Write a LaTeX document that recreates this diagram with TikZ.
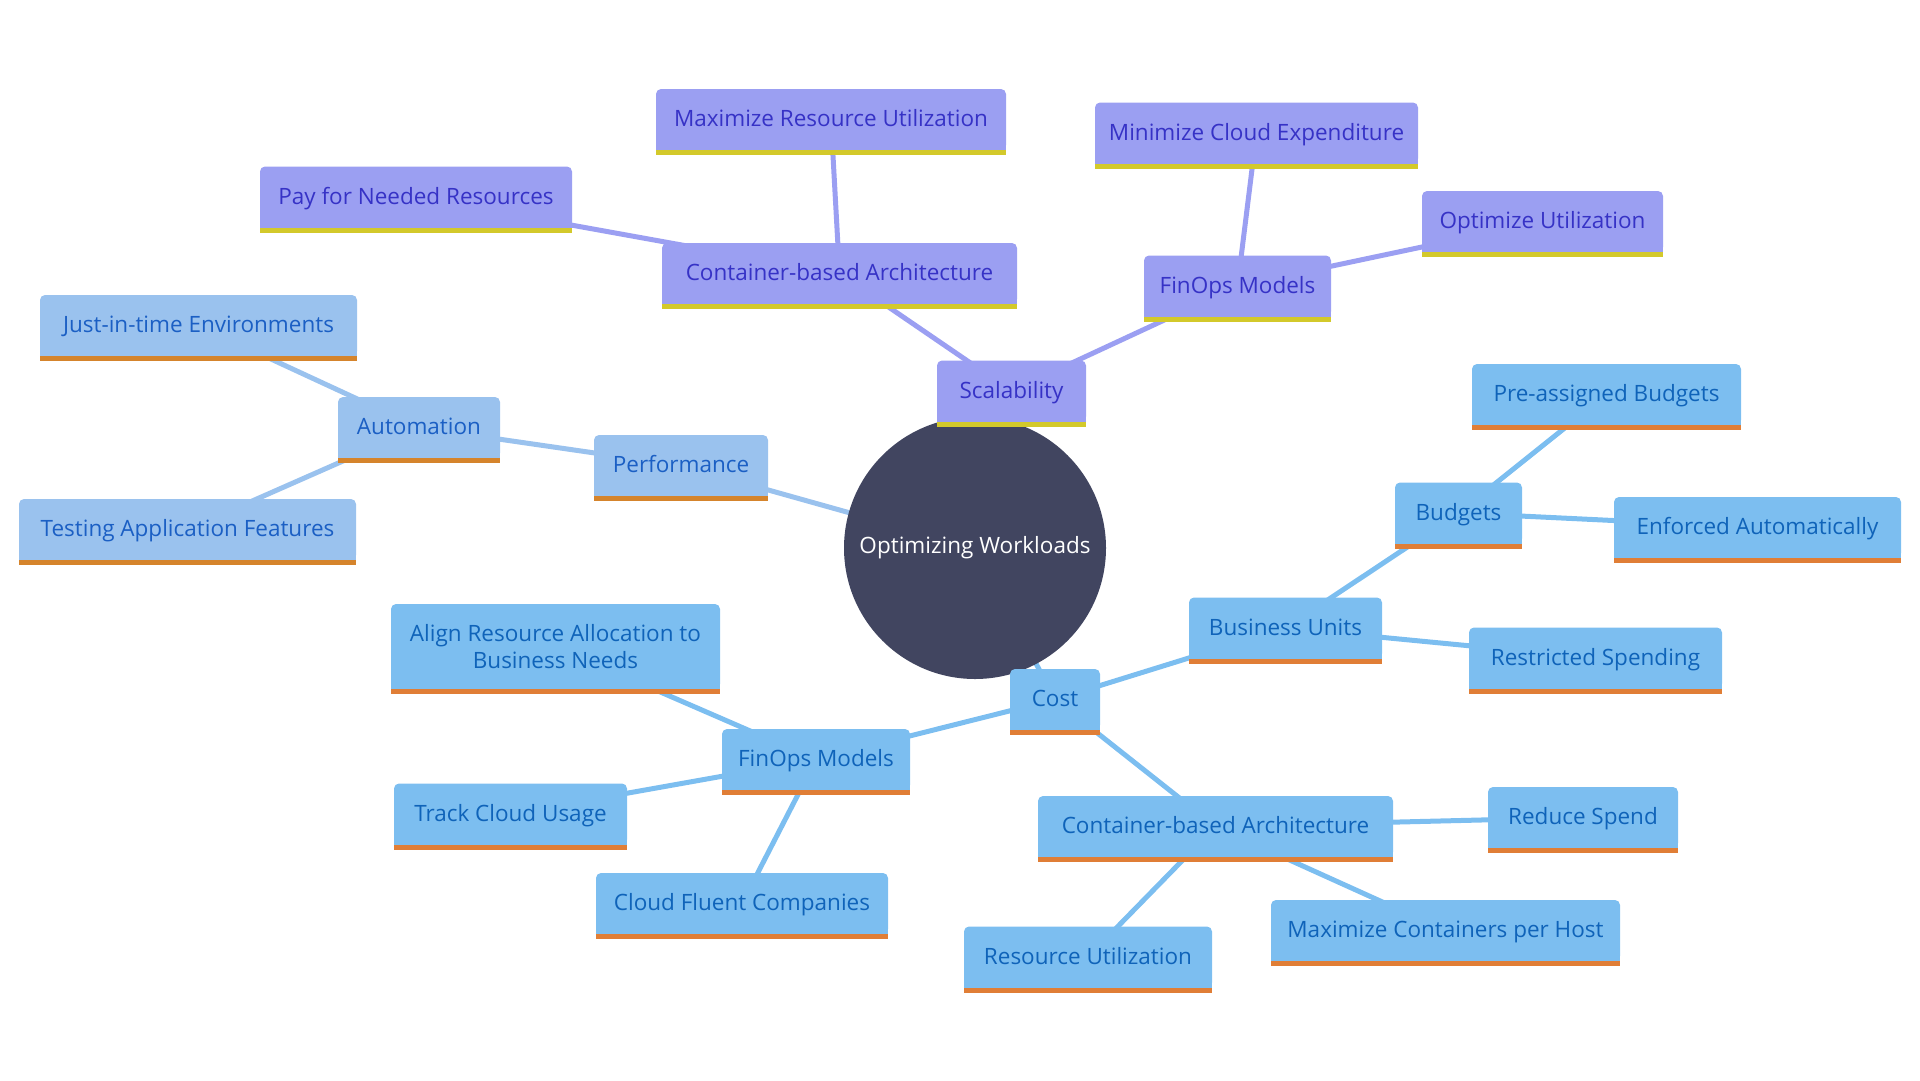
\documentclass[tikz,border=0pt]{standalone}
\usepackage{fontspec}
\setmainfont{Open Sans}
\usetikzlibrary{backgrounds}
\definecolor{pfill}{HTML}{9B9FF2}
\definecolor{ptext}{HTML}{3632C6}
\definecolor{pband}{HTML}{D3C92B}
\definecolor{bfill}{HTML}{9AC2EE}
\definecolor{btext}{HTML}{1B5FC4}
\definecolor{bband}{HTML}{D5842C}
\definecolor{cfill}{HTML}{7CBEF0}
\definecolor{ctext}{HTML}{0F63B9}
\definecolor{cband}{HTML}{E07E36}
\definecolor{hub}{HTML}{414560}
\tikzset{
  boxbase/.style={rectangle, rounded corners=5pt, minimum height=61pt, inner sep=0pt,
    font=\fontsize{22.5}{27}\selectfont, align=center},
  box/.style={boxbase, text height=17pt, text depth=3pt},
  pbox/.style={box, fill=pfill, text=ptext},
  bbox/.style={box, fill=bfill, text=btext},
  cbox/.style={box, fill=cfill, text=ctext},
  cboxtwo/.style={boxbase, fill=cfill, text=ctext},
  pedge/.style={draw=pfill, line width=5pt},
  bedge/.style={draw=bfill, line width=5pt},
  cedge/.style={draw=cfill, line width=5pt},
}
\begin{document}
\begin{tikzpicture}[x=1pt,y=-1pt]
\useasboundingbox (0,0) rectangle (1920,1080);
% hub
\node[circle, fill=hub, minimum size=262pt, inner sep=0pt, text=white,
  font=\fontsize{22.5}{27}\selectfont] (hub) at (975,548) {Optimizing Workloads};
% scalability group
\node[pbox, minimum width=350pt] (mru) at (831,119.5) {Maximize Resource Utilization};
\node[pbox, minimum width=355pt] (cta) at (839.5,273.5) {Container-based Architecture};
\node[pbox, minimum width=312pt] (pay) at (416,197) {Pay for Needed Resources};
\node[pbox, minimum width=323pt] (mce) at (1256.5,133) {Minimize Cloud Expenditure};
\node[pbox, minimum width=241pt] (opu) at (1542.5,221.5) {Optimize Utilization};
\node[pbox, minimum width=187pt] (fta) at (1237.5,286) {FinOps Models};
\node[pbox, minimum width=149pt] (sca) at (1011.5,391) {Scalability};
% performance group
\node[bbox, minimum width=174pt] (perf) at (681,465.5) {Performance};
\node[bbox, minimum width=162pt] (auto) at (419,427.5) {Automation};
\node[bbox, minimum width=317pt] (jit) at (198.5,325.5) {Just-in-time Environments};
\node[bbox, minimum width=337pt] (test) at (187.5,529.5) {Testing Application Features};
% cost group
\node[cbox, minimum width=90pt] (cost) at (1055,699.5) {Cost};
\node[cbox, minimum width=193pt] (bu) at (1285.5,628) {Business Units};
\node[cbox, minimum width=127pt] (bud) at (1458.5,513) {Budgets};
\node[cbox, minimum width=269pt] (pre) at (1606.5,394.5) {Pre-assigned Budgets};
\node[cbox, minimum width=287pt] (enf) at (1757.5,527.5) {Enforced Automatically};
\node[cbox, minimum width=253pt] (res) at (1595.5,658) {Restricted Spending};
\node[cboxtwo, minimum width=329pt, minimum height=85pt] (align) at (555.5,646.5) {Align Resource Allocation to\\Business Needs};
\node[cbox, minimum width=188pt] (fbm) at (816,759.5) {FinOps Models};
\node[cbox, minimum width=233pt] (track) at (510.5,814) {Track Cloud Usage};
\node[cbox, minimum width=292pt] (cfc) at (742,903.5) {Cloud Fluent Companies};
\node[cbox, minimum width=355pt] (cbb) at (1215.5,826.5) {Container-based Architecture};
\node[cbox, minimum width=190pt] (red) at (1583,817.5) {Reduce Spend};
\node[cbox, minimum width=349pt] (mcph) at (1445.5,930.5) {Maximize Containers per Host};
\node[cbox, minimum width=248pt] (ru) at (1088,957) {Resource Utilization};
% square bottom corners and bands
\foreach \n in {mru,cta,pay,mce,opu,fta,sca}{
  \fill[pfill] ([yshift=6pt]\n.south west) rectangle (\n.south east);
  \fill[pband] (\n.south west) rectangle ([yshift=-5pt]\n.south east);}
\foreach \n in {perf,auto,jit,test}{
  \fill[bfill] ([yshift=6pt]\n.south west) rectangle (\n.south east);
  \fill[bband] (\n.south west) rectangle ([yshift=-5pt]\n.south east);}
\foreach \n in {cost,bu,bud,pre,enf,res,align,fbm,track,cfc,cbb,red,mcph,ru}{
  \fill[cfill] ([yshift=6pt]\n.south west) rectangle (\n.south east);
  \fill[cband] (\n.south west) rectangle ([yshift=-5pt]\n.south east);}
% edges
\begin{pgfonlayer}{background}
\draw[pedge] (hub.center) -- (sca.center);
\draw[pedge] (sca.center) -- (cta.center);
\draw[pedge] (sca.center) -- (fta.center);
\draw[pedge] (cta.center) -- (mru.center);
\draw[pedge] (cta.center) -- (pay.center);
\draw[pedge] (fta.center) -- (mce.center);
\draw[pedge] (fta.center) -- (opu.center);
\draw[bedge] (hub.center) -- (perf.center);
\draw[bedge] (perf.center) -- (auto.center);
\draw[bedge] (auto.center) -- (jit.center);
\draw[bedge] (auto.center) -- (test.center);
\draw[cedge] (hub.center) -- (cost.center);
\draw[cedge] (cost.center) -- (bu.center);
\draw[cedge] (bu.center) -- (bud.center);
\draw[cedge] (bu.center) -- (res.center);
\draw[cedge] (bud.center) -- (pre.center);
\draw[cedge] (bud.center) -- (enf.center);
\draw[cedge] (cost.center) -- (fbm.center);
\draw[cedge] (fbm.center) -- (align.center);
\draw[cedge] (fbm.center) -- (track.center);
\draw[cedge] (fbm.center) -- (cfc.center);
\draw[cedge] (cost.center) -- (cbb.center);
\draw[cedge] (cbb.center) -- (red.center);
\draw[cedge] (cbb.center) -- (mcph.center);
\draw[cedge] (cbb.center) -- (ru.center);
\end{pgfonlayer}
\end{tikzpicture}
\end{document}
